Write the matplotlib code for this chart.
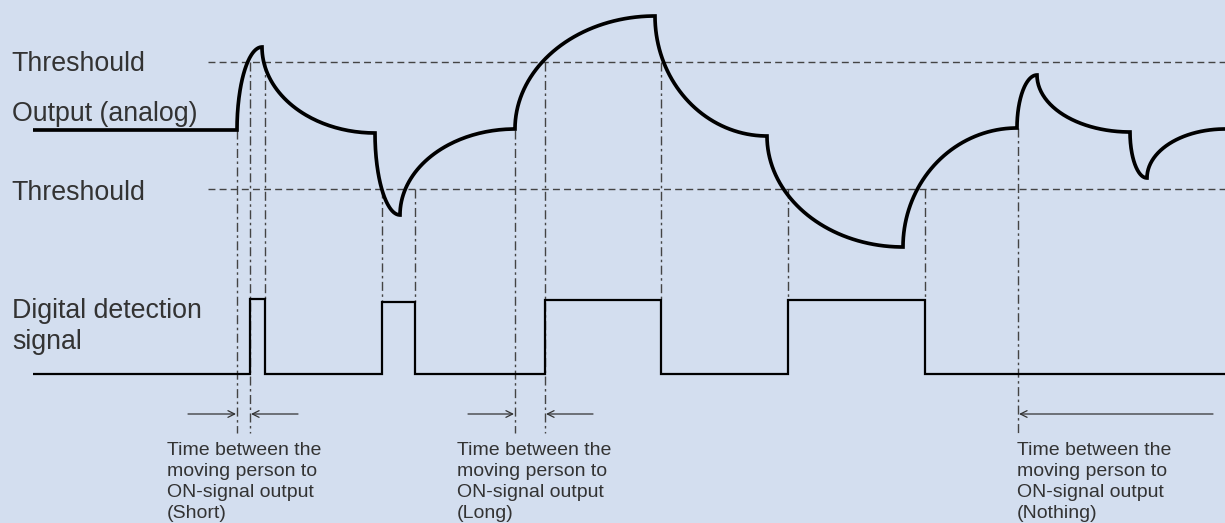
import numpy as np
import matplotlib
matplotlib.use("Agg")
import matplotlib.pyplot as plt

# ---- data (time units along x, signal level units along y; 523-unit tall canvas) ----
analog_t = [33, 237, 262, 375, 400, 515, 655, 767, 903, 1017, 1037, 1130, 1147, 1225]
analog_v = [393, 393, 476, 390, 308, 394, 507, 387, 276, 395, 448, 391, 345, 394]

threshold_levels = [461, 334]
threshold_start = 208
threshold_labels = ["Threshould", "Threshould"]

signal_edges = [33, 250, 265, 382, 415, 545, 661, 788, 925, 1225]
signal_states = [0, 1, 0, 1, 0, 1, 0, 1, 0]
signal_low = 149
pulse_highs = [224, 221, 223, 223]

marker_t = [237, 250, 265, 382, 415, 515, 545, 661, 788, 925, 1018]
marker_top = [393, 461, 461, 334, 334, 393, 461, 461, 334, 334, 395]
marker_bottom = [90, 90, 224, 221, 221, 90, 90, 223, 223, 223, 90]

arrow_level = 109
arrow_from = [188, 298, 468, 593, 1213]
arrow_to = [236, 251, 514, 546, 1019]

note_x = [167, 457, 1017]
note_cases = ["(Short)", "(Long)", "(Nothing)"]
note_lines = ["Time between the", "moving person to", "ON-signal output"]

BG = "#D3DEEF"
TXT = "#333333"
FONT = "Liberation Sans"

fig = plt.figure(figsize=(12.25, 5.23), dpi=100, facecolor=BG)
ax = fig.add_axes([0, 0, 1, 1])
ax.set_facecolor(BG)
ax.set_xlim(0, 1225)
ax.set_ylim(0, 523)
ax.axis("off")

# thresholds
for lvl in threshold_levels:
    ax.plot([threshold_start, 1225], [lvl, lvl], color="#444444", lw=1.0,
            dashes=(5, 3), solid_capstyle="butt")

# vertical dash-dot markers
for t, top, bot in zip(marker_t, marker_top, marker_bottom):
    ax.plot([t, t], [top, bot], color="#444444", lw=1.0,
            dashes=(6.5, 2.5, 1.8, 2.5))

# analog curve: flat start, then quarter-ellipse arcs between key points
xs = [analog_t[0], analog_t[1]]
ys = [analog_v[0], analog_v[1]]
th = np.linspace(0, np.pi / 2, 80)
for i in range(1, len(analog_t) - 1):
    t0, v0, t1, v1 = analog_t[i], analog_v[i], analog_t[i + 1], analog_v[i + 1]
    xs.extend(list(t0 + (t1 - t0) * (1 - np.cos(th[1:]))))
    ys.extend(list(v0 + (v1 - v0) * np.sin(th[1:])))
ax.plot(xs, ys, color="black", lw=2.65, solid_joinstyle="miter",
        solid_capstyle="butt")

# digital signal
sx, sy = [], []
k = 0
for i, st in enumerate(signal_states):
    if st:
        lvl = pulse_highs[k]
        k += 1
    else:
        lvl = signal_low
    sx.extend([signal_edges[i], signal_edges[i + 1]])
    sy.extend([lvl, lvl])
ax.plot(sx, sy, color="black", lw=1.6, solid_joinstyle="miter",
        solid_capstyle="butt")

# arrows
for a, b in zip(arrow_from, arrow_to):
    ax.annotate("", xy=(b, arrow_level), xytext=(a, arrow_level),
                arrowprops=dict(arrowstyle="->", color="#333333", lw=0.9,
                                shrinkA=0, shrinkB=0, mutation_scale=12))

# big labels
big = dict(fontsize=19.3, color=TXT, family=FONT, ha="left", va="baseline")
ax.text(11, 523 - 71, threshold_labels[0], **big)
ax.text(12, 523 - 121, "Output (analog)", **big)
ax.text(11, 523 - 200, threshold_labels[1], **big)
ax.text(12, 523 - 318, "Digital detection", **big)
ax.text(12, 523 - 349, "signal", **big)

# notes
small = dict(fontsize=14, color=TXT, family=FONT, ha="left", va="baseline")
for x, case in zip(note_x, note_cases):
    for j, line in enumerate(note_lines + [case]):
        ax.text(x, 523 - 455 - 21 * j, line, **small)

fig.savefig("out.png", dpi=100, facecolor=BG)
